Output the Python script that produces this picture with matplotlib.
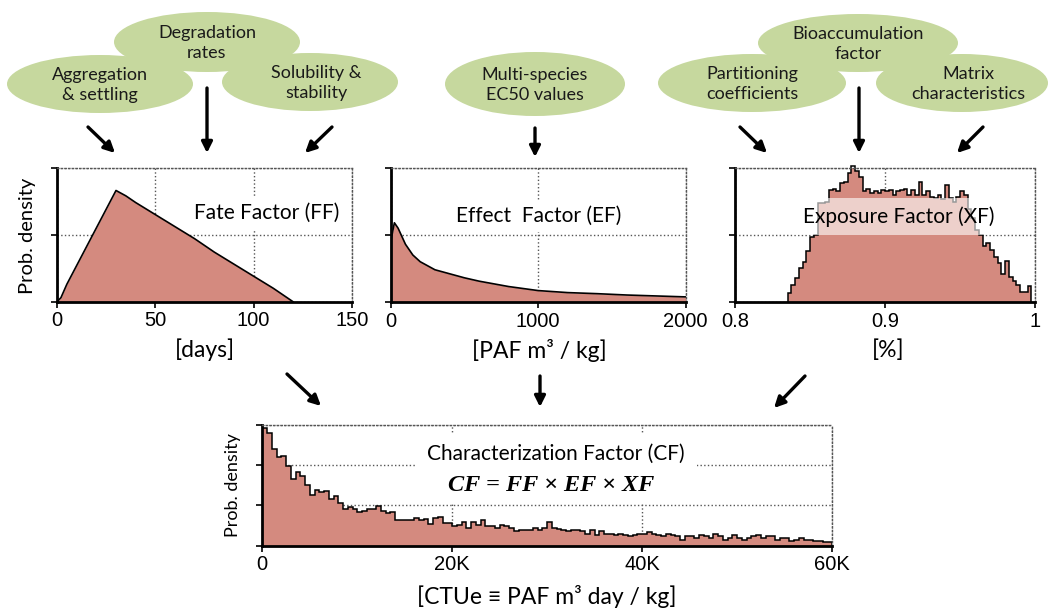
import numpy as np
import matplotlib
matplotlib.use("Agg")
import matplotlib.pyplot as plt
from matplotlib.patches import Ellipse

# ---- data (relative probability density) ----
ff_days = [0, 2, 5, 10, 15, 20, 25, 30, 35, 40, 50, 60, 70, 80, 90, 100, 110, 115, 120]
ff_dens = [0, 0.03, 0.13, 0.27, 0.41, 0.55, 0.69, 0.83, 0.79, 0.74, 0.65, 0.56,
           0.47, 0.37, 0.28, 0.19, 0.10, 0.05, 0]

ef_paf = [0, 0, 25, 50, 100, 150, 200, 300, 400, 500, 600, 800, 1000, 1200,
          1400, 1600, 1800, 2000]
ef_dens = [0, 0.45, 0.59, 0.55, 0.43, 0.35, 0.30, 0.24, 0.21, 0.18, 0.155, 0.115,
           0.085, 0.07, 0.062, 0.052, 0.045, 0.038]

xf_start, xf_width = 0.835, 0.0025
xf_dens = [0.07, 0.13, 0.18, 0.26, 0.30, 0.38, 0.49, 0.50, 0.74, 0.74,
           0.75, 0.84, 0.85, 0.83, 0.89, 0.90, 0.97, 1.02, 0.98, 0.94,
           0.83, 0.85, 0.82, 0.83, 0.82, 0.84, 0.83, 0.84, 0.80, 0.83,
           0.84, 0.85, 0.80, 0.84, 0.80, 0.90, 0.80, 0.83, 0.79, 0.78,
           0.80, 0.77, 0.88, 0.78, 0.75, 0.79, 0.83, 0.80, 0.70, 0.63,
           0.54, 0.50, 0.42, 0.44, 0.39, 0.34, 0.29, 0.21, 0.31, 0.19,
           0.16, 0.13, 0.08, 0.08, 0.12]

cf_width = 500
cf_dens = [0.97, 0.93, 0.80, 0.73, 0.74, 0.66, 0.55, 0.61, 0.58, 0.50,
           0.42, 0.46, 0.44, 0.45, 0.39, 0.41, 0.35, 0.30, 0.32, 0.30,
           0.28, 0.29, 0.30, 0.30, 0.33, 0.29, 0.27, 0.28, 0.21, 0.21,
           0.21, 0.21, 0.23, 0.21, 0.22, 0.18, 0.23, 0.24, 0.19, 0.19,
           0.16, 0.17, 0.20, 0.15, 0.20, 0.17, 0.21, 0.16, 0.16, 0.15,
           0.17, 0.16, 0.15, 0.12, 0.13, 0.13, 0.13, 0.15, 0.13, 0.15,
           0.20, 0.15, 0.14, 0.13, 0.12, 0.13, 0.13, 0.12, 0.10, 0.13,
           0.09, 0.12, 0.10, 0.10, 0.09, 0.10, 0.09, 0.08, 0.09, 0.10,
           0.10, 0.11, 0.10, 0.09, 0.08, 0.10, 0.09, 0.08, 0.05, 0.08,
           0.08, 0.06, 0.09, 0.08, 0.06, 0.10, 0.08, 0.05, 0.06, 0.09,
           0.06, 0.05, 0.06, 0.08, 0.09, 0.06, 0.08, 0.08, 0.05, 0.06,
           0.06, 0.04, 0.05, 0.06, 0.05, 0.05, 0.04, 0.04, 0.03, 0.03]

ff_ticks = [0, 50, 100, 150]
ef_ticks = [0, 1000, 2000]
xf_ticks = [0.8, 0.9, 1.0]
xf_ticklabels = ["0.8", "0.9", "1"]
cf_ticks = [0, 20000, 40000, 60000]
cf_ticklabels = ["0", "20K", "40K", "60K"]

bubbles = [
    ("Degradation\nrates", 207, 42, 186, 60),
    ("Aggregation\n& settling", 100, 84, 186, 58),
    ("Solubility &\nstability", 310, 82, 176, 58),
    ("Multi-species\nEC50 values", 535, 84, 180, 64),
    ("Bioaccumulation\nfactor", 858, 43, 200, 58),
    ("Partitioning\ncoefficients", 752, 83, 188, 58),
    ("Matrix\ncharacteristics", 962, 83, 172, 58),
]
arrows = [((88, 127), (115, 153)), ((207, 88), (207, 153)), ((332, 127), (305, 153)),
          ((535, 128), (535, 157)),
          ((740, 127), (767, 153)), ((859, 88), (859, 153)), ((983, 127), (957, 153)),
          ((287, 374), (321, 406)), ((540, 376), (540, 407)), ((805, 376), (774, 408))]

FILL = "#d48a7f"
GREEN = "#c6d89e"
TXT = ["Lato", "DejaVu Sans"]
NUM = "Liberation Sans"

W, H = 1049, 609
fig = plt.figure(figsize=(W / 100, H / 100), dpi=100)


def rect(l, t, r, b):
    return [l / W, 1 - b / H, (r - l) / W, (b - t) / H]


over = fig.add_axes([0, 0, 1, 1])
over.set_xlim(0, W)
over.set_ylim(H, 0)
over.axis("off")

for label, cx, cy, w, h in bubbles:
    over.add_patch(Ellipse((cx, cy), w, h, color=GREEN, lw=0))
for label, cx, cy, w, h in bubbles:
    dx = 6 if label.startswith("Solub") or label.startswith("Matrix") else 0
    over.text(cx + dx, cy + 1, label, ha="center", va="center", fontsize=13,
              family=TXT, linespacing=1.25, color="#1a1a1a")
for start, end in arrows:
    over.annotate("", xy=end, xytext=start,
                  arrowprops=dict(arrowstyle="-|>", color="black", lw=2.4,
                                  mutation_scale=16, shrinkA=0, shrinkB=0))


def style(ax, xlim, ticks, labels, yticks):
    ax.set_xlim(xlim)
    ax.set_ylim(0, 1)
    ax.set_xticks(ticks)
    ax.set_xticklabels(labels, family=NUM, fontsize=14.5)
    ax.set_yticks(yticks)
    ax.set_yticklabels([])
    ax.grid(True, ls=":", color="#555555", lw=1)
    ax.set_axisbelow(True)
    for s in ["top", "right"]:
        ax.spines[s].set_linestyle(":")
        ax.spines[s].set_color("#555555")
        ax.spines[s].set_linewidth(1)
    for s in ["left", "bottom"]:
        ax.spines[s].set_color("black")
        ax.spines[s].set_linewidth(2)
    ax.tick_params(length=4, width=1.2, pad=3)


box = dict(facecolor="white", edgecolor="none", boxstyle="square,pad=0.3")

# Fate factor
ax1 = fig.add_axes(rect(57, 167.7, 352, 301.7))
ax1.fill_between(ff_days, ff_dens, color=FILL, lw=0)
ax1.plot(ff_days, ff_dens, color="black", lw=1.2)
style(ax1, (0, 150), ff_ticks, [str(t) for t in ff_ticks], [0, 0.5, 1])
ax1.text(0.712, 0.66, "Fate Factor (FF)", transform=ax1.transAxes, ha="center",
         va="center", fontsize=15, family=TXT, bbox=box)
fig.text(28 / W, 1 - 236 / H, "Prob. density", rotation=90, ha="center",
         va="center", fontsize=14.5, family=TXT)
fig.text(205 / W, 1 - 350 / H, "[days]", ha="center", va="center", fontsize=16.5,
         family=TXT)

# Effect factor
ax2 = fig.add_axes(rect(390.7, 167.7, 685.7, 302))
ax2.fill_between(ef_paf, ef_dens, color=FILL, lw=0)
ax2.plot(ef_paf, ef_dens, color="black", lw=1.2)
style(ax2, (0, 2000), ef_ticks, [str(t) for t in ef_ticks], [0, 0.5, 1])
ax2.text(0.5, 0.64, "Effect  Factor (EF)", transform=ax2.transAxes, ha="center",
         va="center", fontsize=15, family=TXT, bbox=box)
fig.text(539 / W, 1 - 350 / H, "[PAF m\u00b3 / kg]", ha="center", va="center",
         fontsize=16.5, family=TXT)

# Exposure factor
xf_edges = xf_start + xf_width * np.arange(len(xf_dens) + 1)
ax3 = fig.add_axes(rect(735, 168.5, 1035, 302.3))
ax3.stairs(xf_dens, xf_edges, fill=True, color=FILL, lw=0)
ax3.stairs(xf_dens, xf_edges, color="black", lw=1.1, clip_on=False)
style(ax3, (0.8, 1.0), xf_ticks, xf_ticklabels, [0, 0.5, 1])
ax3.text(0.545, 0.64, "Exposure Factor (XF)", transform=ax3.transAxes, ha="center",
         va="center", fontsize=15, family=TXT,
         bbox=dict(facecolor="white", edgecolor="none", alpha=0.6,
                   boxstyle="square,pad=0.4"))
fig.text(888 / W, 1 - 350 / H, "[%]", ha="center", va="center", fontsize=16.5,
         family=TXT)

# Characterization factor
cf_edges = cf_width * np.arange(len(cf_dens) + 1)
ax4 = fig.add_axes(rect(262.3, 424.7, 832, 545.7))
ax4.stairs(cf_dens, cf_edges, fill=True, color=FILL, lw=0)
ax4.stairs(cf_dens, cf_edges, color="black", lw=1.1)
style(ax4, (0, 60000), cf_ticks, cf_ticklabels, [0, 1 / 3, 2 / 3, 1])
ax4.text(0.516, 0.755, "Characterization Factor (CF)", transform=ax4.transAxes,
         ha="center", va="center", fontsize=15, family=TXT,
         bbox=dict(facecolor="white", edgecolor="none", boxstyle="square,pad=0.55"))
ax4.text(0.507, 0.5, "CF = FF \u00d7 EF \u00d7 XF", transform=ax4.transAxes,
         ha="center", va="center", fontsize=17.5, family="Liberation Serif",
         fontweight="bold", fontstyle="italic",
         bbox=dict(facecolor="white", edgecolor="none", boxstyle="square,pad=0.35"))
fig.text(233 / W, 1 - 485 / H, "Prob. density", rotation=90, ha="center",
         va="center", fontsize=13, family=TXT)
fig.text(547 / W, 1 - 597 / H, "[CTUe \u2261 PAF m\u00b3 day / kg]", ha="center",
         va="center", fontsize=16.5, family=TXT)

fig.savefig("out.png", dpi=100)
